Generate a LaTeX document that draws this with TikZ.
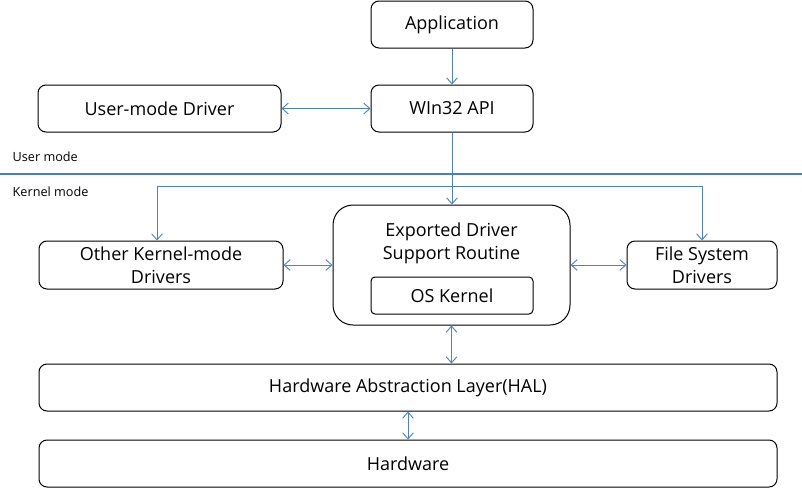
\documentclass[tikz,border=0pt]{standalone}
\usepackage{fontspec}
\setmainfont{Open Sans}
\usepackage{tikz}
\usetikzlibrary{arrows.meta,positioning}
\definecolor{lineblue}{HTML}{4F81BD}
\definecolor{sepblue}{HTML}{4A7EBB}

\begin{document}
\begin{tikzpicture}[
  x=0.75pt, y=-0.75pt,
  node distance=27pt,
  font=\fontsize{13.5}{17.5}\selectfont,
  box/.style={draw, rounded corners=6pt, align=center, inner sep=2pt, minimum height=35.25pt, line width=0.75pt},
  arr/.style={-{Straight Barb[length=4.5pt,width=8pt]}, draw=lineblue, line width=0.7pt},
  darr/.style={{Straight Barb[length=4.5pt,width=8pt]}-{Straight Barb[length=4.5pt,width=8pt]}, draw=lineblue, line width=0.7pt},
  modelabel/.style={anchor=west, font=\fontsize{9.5}{11}\selectfont}
]
\useasboundingbox (0,0) rectangle (802,489);

% user mode
\node[box, minimum width=121.5pt] (app) at (452,24.5) {Application};
\node[box, minimum width=121.5pt, below=of app] (win) {WIn32 API};
\node[box, minimum width=182.25pt, left=66.75pt of win] (umd) {User-mode Driver};

% mode separator
\draw[sepblue, line width=2.2pt] (0,174) -- (802,174);
\node[modelabel] (um) at (8,157) {User mode};
\node[modelabel] (km) at (8,192) {Kernel mode};

% kernel mode
\node[box, rounded corners=15pt, minimum width=177.75pt, minimum height=90pt,
  label={[align=center, anchor=north, yshift=-10pt]north:Exported Driver\\Support Routine}] (eds) at (451.5,265) {};
\node[box, rounded corners=3pt, minimum width=121.5pt, minimum height=27.75pt] (osk) at (452,295.5) {OS Kernel};
\node[box, minimum width=183pt, minimum height=36pt] (okm) at (161,265) {Other Kernel-mode\\Drivers};
\node[box, minimum width=112.5pt, minimum height=36pt] (fsd) at (702,265) {File System\\Drivers};
\node[box, minimum width=553.5pt] (hal) at (408,387.5) {Hardware Abstraction Layer(HAL)};
\node[box, minimum width=553.5pt, below=21pt of hal] (hw) {Hardware};

\coordinate (br) at (452,186);

\draw[arr] (app) -- (win);
\draw[darr] (umd) -- (win);
\draw[arr] (win) -- (win |- eds.north);
\draw[arr] (br) -| ([xshift=-3pt]okm.north);
\draw[arr] (br) -| (fsd.north);
\draw[darr] (okm) -- (eds);
\draw[darr] (eds) -- (fsd);
\draw[darr] (eds.south) -- (eds.south |- hal.north);
\draw[darr] (hal) -- (hw);
\end{tikzpicture}
\end{document}
